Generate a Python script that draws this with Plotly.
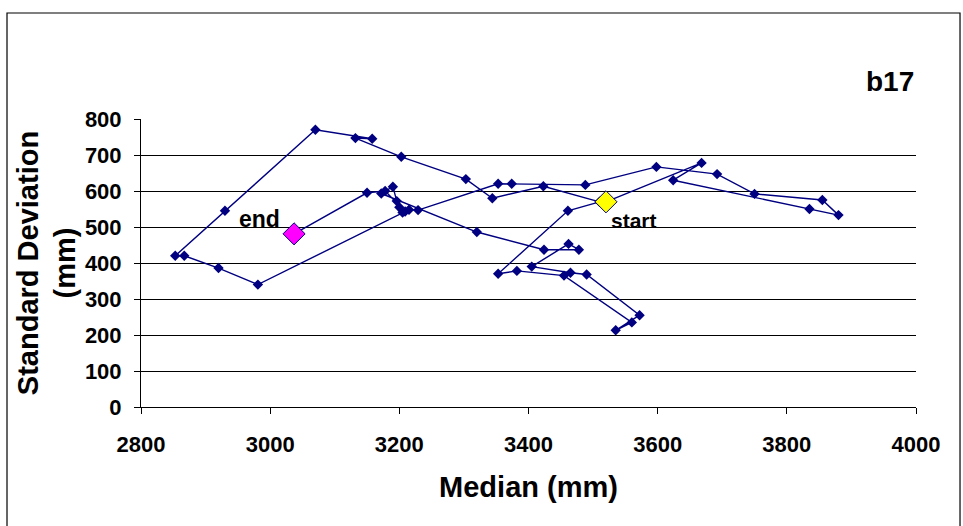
import plotly.graph_objects as go

# Trajectory of (median, standard deviation) pairs, in time order
median_mm = [3520, 3668, 3624, 3835, 3880, 3855, 3750, 3692, 3598, 3488,
             3374, 3353, 3229, 3215, 3205, 3200, 3196, 3190, 3172, 3320,
             3424, 3478, 3462, 3405, 3465, 3490, 3572, 3535, 3560, 3455,
             3382, 3353, 3461, 3510, 3423, 3344, 3303, 3203, 3132, 3158,
             3070, 2930, 2853, 2867, 2920, 2981, 3209, 3178, 3150, 3037]
stdev_mm = [570, 678, 630, 550, 533, 575, 592, 647, 667, 617,
            620, 620, 547, 548, 540, 555, 572, 612, 593, 486,
            437, 437, 453, 390, 373, 368, 255, 213, 235, 365,
            378, 370, 545, 570, 613, 580, 633, 695, 747, 745,
            770, 545, 420, 420, 386, 340, 543, 600, 595, 481]

x_ticks = [2800, 3000, 3200, 3400, 3600, 3800, 4000]
y_ticks = [0, 100, 200, 300, 400, 500, 600, 700, 800]

NAVY = "#000080"
FONT = "Arial, Liberation Sans, sans-serif"

fig = go.Figure()

fig.add_trace(go.Scatter(
    x=median_mm, y=stdev_mm, mode="lines+markers",
    line=dict(color=NAVY, width=1.4),
    marker=dict(symbol="diamond", size=8, color=NAVY),
    showlegend=False, hoverinfo="skip",
))

# first and last points highlighted
fig.add_trace(go.Scatter(
    x=[median_mm[0]], y=[stdev_mm[0]], mode="markers",
    marker=dict(symbol="diamond", size=17, color="#FFFF00",
                line=dict(color=NAVY, width=1)),
    showlegend=False, hoverinfo="skip",
))
fig.add_trace(go.Scatter(
    x=[median_mm[-1]], y=[stdev_mm[-1]], mode="markers",
    marker=dict(symbol="diamond", size=17, color="#FF00FF",
                line=dict(color=NAVY, width=1)),
    showlegend=False, hoverinfo="skip",
))

fig.add_annotation(x=median_mm[0], y=stdev_mm[0], text="<b>start</b>",
                   showarrow=False, xshift=28, yshift=-19,
                   font=dict(family=FONT, size=21, color="black"))
fig.add_annotation(x=median_mm[-1], y=stdev_mm[-1], text="<b>end</b>",
                   showarrow=False, xshift=-35, yshift=15,
                   font=dict(family=FONT, size=23, color="black"))

fig.add_annotation(xref="paper", yref="paper", x=1.0, y=1.13,
                   xanchor="right", yanchor="middle", text="<b>b17</b>",
                   showarrow=False,
                   font=dict(family=FONT, size=28, color="black"))

# outer frame of the chart area
fig.add_shape(type="rect", xref="paper", yref="paper",
              x0=-0.1729, x1=1.0568, y0=-0.45, y1=1.368,
              line=dict(color="black", width=1.2), fillcolor="rgba(0,0,0,0)",
              layer="below")

fig.update_layout(
    width=963, height=526,
    margin=dict(l=141, r=47, t=119, b=119),
    paper_bgcolor="white", plot_bgcolor="white",
    font=dict(family=FONT, color="black"),
    showlegend=False,
)

fig.update_xaxes(
    range=[2800, 4000], tickvals=x_ticks,
    ticktext=[f"<b>{v}</b>" for v in x_ticks],
    tickfont=dict(family=FONT, size=22),
    showgrid=False, zeroline=False,
    showline=True, linecolor="black", linewidth=1,
    ticks="outside", ticklen=6, tickcolor="black", ticklabelstandoff=12,
    title=dict(text="<b>Median (mm)</b>", font=dict(family=FONT, size=29),
               standoff=20),
)
fig.update_yaxes(
    range=[0, 800], tickvals=y_ticks,
    ticktext=[f"<b>{v}</b>" for v in y_ticks],
    tickfont=dict(family=FONT, size=22),
    showgrid=True, gridcolor="black", gridwidth=1,
    zeroline=False,
    showline=True, linecolor="black", linewidth=1,
    ticks="outside", ticklen=6, tickcolor="black", ticklabelstandoff=8,
    title=dict(text="<b>Standard Deviation<br>(mm)</b>",
               font=dict(family=FONT, size=29), standoff=0),
)

fig.write_html("out.html")
